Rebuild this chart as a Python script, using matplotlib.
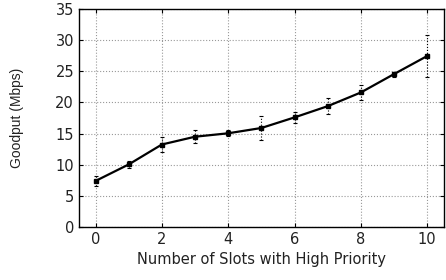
import matplotlib
matplotlib.use('Agg')
import matplotlib.pyplot as plt

slots = [0, 1, 2, 3, 4, 5, 6, 7, 8, 9, 10]
goodput = [7.4, 10.05, 13.25, 14.5, 15.05, 15.9, 17.6, 19.4, 21.6, 24.55, 27.45]
errors = [0.75, 0.6, 1.15, 1.0, 0.5, 1.85, 0.85, 1.3, 1.2, 0.4, 3.4]

plt.rcParams['font.family'] = ['DejaVu Sans']

fig = plt.figure(figsize=(4.46, 2.8), dpi=100)
ax = fig.add_axes([0.177, 0.189, 0.818, 0.779])

eb = ax.errorbar(slots, goodput, yerr=errors, color='black', lw=1.6,
                 marker='s', ms=2.5, capsize=1.5, elinewidth=0.8, capthick=0.8)
eb[2][0].set_linestyle(':')

ax.set_xlim(-0.5, 10.5)
ax.set_ylim(0, 35)
ax.set_xticks([0, 2, 4, 6, 8, 10])
ax.set_yticks([0, 5, 10, 15, 20, 25, 30, 35])
ax.grid(True, color='#999999', linestyle=':', linewidth=0.8)
ax.tick_params(direction='in', top=True, right=True, labelsize=10.5, length=3,
               labelcolor='#222222')
for s in ax.spines.values():
    s.set_linewidth(1.0)
ax.set_xlabel('Number of Slots with High Priority', fontsize=10.5, color='#222222')
ax.set_ylabel('Goodput (Mbps)', fontsize=10, family='Liberation Sans', color='#222222')
ax.yaxis.set_label_coords(-0.15, 0.5)

fig.savefig('out.png', dpi=100)
